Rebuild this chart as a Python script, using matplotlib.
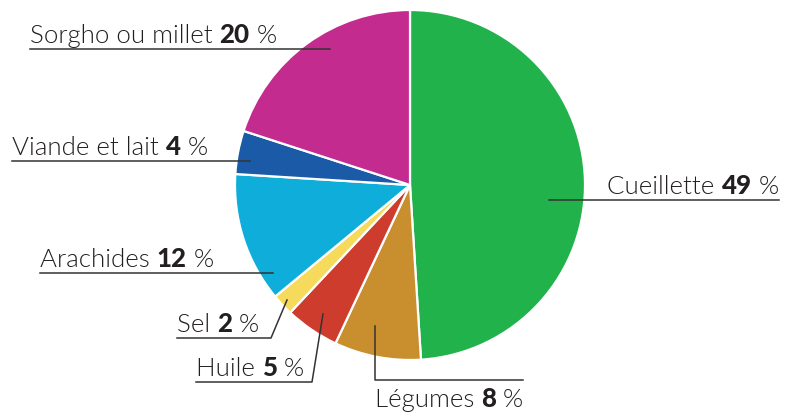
import matplotlib
matplotlib.use("Agg")
import matplotlib.pyplot as plt
import numpy as np

categories = ["Cueillette", "Légumes", "Huile", "Sel", "Arachides", "Viande et lait", "Sorgho ou millet"]
values = [49, 8, 5, 2, 12, 4, 20]
colors = ["#22b24c", "#c98f2e", "#cd3c2c", "#f6da5c", "#0fadd9", "#1b5aa7", "#c42b8f"]

W, H = 788, 414
fig = plt.figure(figsize=(W / 100, H / 100), dpi=100)
ax = fig.add_axes([0, 0, 1, 1])

# y axis is flipped below, so counterclock=True appears clockwise
cx, cy, r = 410, 186, 175
wedges, _ = ax.pie(values, colors=colors, startangle=-90, counterclock=True,
                   center=(cx, cy), radius=r, frame=True,
                   wedgeprops=dict(edgecolor="white", linewidth=1.6))
ax.set_xlim(0, W)
ax.set_ylim(H, 0)
ax.set_aspect("equal")
ax.axis("off")

FONT = "Lato"
FS = 18.6
TC = "#231f20"
LC = "#333333"
NORMAL_W = 300
BOLD_W = 900
renderer = fig.canvas.get_renderer()


def width_px(s, weight):
    t = ax.text(0, 0, s, fontsize=FS, family=FONT, fontweight=weight)
    w = t.get_window_extent(renderer).width
    t.remove()
    return w


def label(name, val, x, y, align="left"):
    parts = [(name + " ", NORMAL_W), (str(val), BOLD_W), (" %", NORMAL_W)]
    widths = [width_px(p, wgt) for p, wgt in parts]
    total = sum(widths)
    x0 = x if align == "left" else x - total
    for (p, wgt), w in zip(parts, widths):
        ax.text(x0, y, p, fontsize=FS, family=FONT, fontweight=wgt, color=TC,
                ha="left", va="baseline")
        x0 += w


lw = 1.1
# Sorgho
label(categories[6], values[6], 30, 43)
ax.plot([30, 330], [50, 50], color=LC, lw=lw)
# Viande
label(categories[5], values[5], 12, 155)
ax.plot([12, 250], [162, 162], color=LC, lw=lw)
# Cueillette
label(categories[0], values[0], 779, 194, align="right")
ax.plot([549, 779], [201, 201], color=LC, lw=lw)
# Arachides
label(categories[4], values[4], 40, 267)
ax.plot([40, 273], [274, 274], color=LC, lw=lw)
# Sel
label(categories[3], values[3], 177, 332)
ax.plot([177, 271, 287], [339, 339, 301], color=LC, lw=lw)
# Huile
label(categories[2], values[2], 196, 376)
ax.plot([196, 312, 323], [383, 383, 315], color=LC, lw=lw)
# Légumes
label(categories[1], values[1], 375, 407)
ax.plot([375, 375, 523], [327, 381, 381], color=LC, lw=lw)

fig.savefig("out.png", dpi=100, facecolor="white")
